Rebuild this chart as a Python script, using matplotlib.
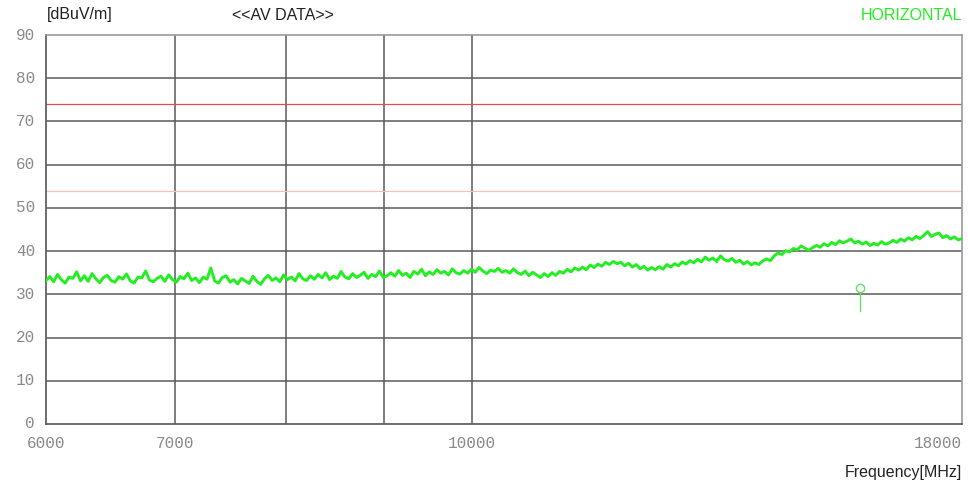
import numpy as np
import matplotlib
matplotlib.use("Agg")
import matplotlib.pyplot as plt

# AV trace readings, 6 GHz - 18 GHz sweep (dBuV/m)
trace_db = [
    33.2, 34.1, 32.9, 34.6, 33.4, 32.6, 34.0, 33.7, 35.2, 33.1,
    34.3, 33.0, 34.8, 33.6, 32.7, 33.9, 34.4, 33.2, 32.8, 34.1,
    33.5, 34.7, 33.1, 32.6, 34.0, 33.8, 35.4, 33.3, 32.9, 33.7,
    34.2, 33.0, 34.5, 33.4, 32.8, 34.1, 33.6, 34.9, 33.2, 33.8,
    32.7, 34.0, 33.5, 36.1, 33.1, 32.6, 33.9, 34.3, 32.8, 33.4,
    32.4, 33.7, 33.1, 32.5, 34.2, 33.0, 32.3, 33.6, 34.4, 33.2,
    33.8, 32.9, 34.5, 33.4, 34.0, 33.1, 34.8, 33.6, 33.2, 34.3,
    33.5, 34.6, 33.8, 35.0, 33.4, 34.2, 33.7, 35.3, 34.0, 33.6,
    34.8, 33.9, 34.4, 35.1, 33.7, 34.6, 34.1, 35.4, 33.9, 34.3,
    35.0, 34.2, 35.5, 34.4, 34.9, 33.9, 35.3, 34.7, 35.8, 34.3,
    35.2, 34.6, 35.7, 34.9, 35.3, 34.5, 35.9, 35.0, 34.7, 35.5,
    34.9, 35.8, 35.1, 36.2, 35.4, 34.8, 35.6, 35.3, 36.0, 35.1,
    35.5, 34.9, 35.9, 35.0, 34.6, 35.4, 34.3, 35.1, 34.5, 33.9,
    34.8, 34.1, 35.0, 34.4, 35.3, 34.9, 35.8, 35.2, 36.1, 35.6,
    36.3, 35.7, 36.8, 36.2, 37.0, 36.5, 37.4, 36.9, 37.6, 37.1,
    37.4, 36.6, 37.2, 36.3, 36.9, 35.9, 36.5, 35.6, 36.2, 35.7,
    36.4, 35.8, 36.9, 36.3, 37.1, 36.6, 37.5, 37.0, 37.8, 37.3,
    38.1, 37.5, 38.6, 37.9, 38.4, 37.6, 38.9, 38.0, 37.7, 38.3,
    37.4, 37.9, 37.0, 37.6, 36.8, 37.3, 36.9, 37.7, 38.2, 37.8,
    38.9, 39.6, 39.2, 40.1, 39.8, 40.6, 40.3, 41.2, 40.7, 40.2,
    40.8, 41.3, 40.9, 41.7, 41.2, 42.0, 41.5, 42.4, 41.9, 42.3,
    42.8, 41.9, 42.3, 41.6, 42.1, 41.3, 41.8, 41.4, 42.2, 41.6,
    41.9, 42.5, 42.0, 42.8, 42.3, 43.1, 42.6, 43.4, 42.9, 43.6,
    44.5, 43.4, 43.9, 44.2, 43.1, 43.6, 42.8, 43.3, 42.6, 42.9,
]
f_start, f_stop = 6000, 18000
freqs = np.geomspace(f_start, f_stop, len(trace_db))

limit_peak = 74
limit_av = 54
marker_freq = 15925
marker_db = 31.4

x_ticks = [6000, 7000, 10000, 18000]
x_grid = [7000, 8000, 9000, 10000]
y_ticks = list(range(0, 91, 10))

green = "#22ee22"
mono = "Liberation Mono"
sans = "Liberation Sans"

fig = plt.figure(figsize=(9.68, 4.88), dpi=100)
ax = fig.add_axes([46 / 968, 1 - 424 / 488, 916 / 968, 389 / 488])
ax.set_xscale("log")
ax.set_xlim(f_start, f_stop)
ax.set_ylim(0, 90)

for y in y_ticks[1:-1]:
    ax.axhline(y, color="#5a5a5a", lw=1.1, zorder=1)
for x in x_grid:
    ax.axvline(x, color="#5a5a5a", lw=1.1, zorder=1)

ax.axhline(limit_peak, color="#d85050", lw=0.9, zorder=2)
ax.axhline(limit_av, color="#f6c0c0", lw=0.9, zorder=2)

ax.plot(freqs, trace_db, color=green, lw=2.1, zorder=3)

# peak marker: open circle on a short stem
ax.plot([marker_freq, marker_freq], [marker_db - 1, marker_db - 5.2], color="#66dd66", lw=1.0, zorder=3)
ax.plot([marker_freq], [marker_db], marker="o", ms=6, mfc="white", mec="#66dd66", mew=1.0, zorder=4)

ax.xaxis.set_minor_locator(matplotlib.ticker.NullLocator())
ax.set_xticks([])
ax.set_yticks([])
for s in ["left", "bottom"]:
    ax.spines[s].set_color("#555555")
    ax.spines[s].set_linewidth(1.2)
for s in ["top", "right"]:
    ax.spines[s].set_color("#999999")
    ax.spines[s].set_linewidth(1.2)

tick_kw = dict(family=mono, fontsize=11.5, color="#8a8a8a")
for y in y_ticks:
    ax.text(-0.012, y, str(y), transform=ax.get_yaxis_transform(), ha="right", va="center", **tick_kw)
for x in x_ticks:
    ha = "right" if x == f_stop else "center"
    ax.text(x, -0.05, str(x), transform=ax.get_xaxis_transform(), ha=ha, va="center", **tick_kw)

fig.text(47 / 968, 1 - 15 / 488, "[dBuV/m]", family=sans, fontsize=11.5, color="#222222", va="center")
fig.text(232 / 968, 1 - 15 / 488, "<<AV DATA>>", family=sans, fontsize=11.5, color="#222222", va="center")
fig.text(962 / 968, 1 - 15 / 488, "HORIZONTAL", family=sans, fontsize=11.5, color=green, ha="right", va="center")
fig.text(962 / 968, 1 - 473 / 488, "Frequency[MHz]", family=sans, fontsize=11.5, color="#222222", ha="right", va="center")

fig.savefig("out.png", dpi=100, facecolor="white")
